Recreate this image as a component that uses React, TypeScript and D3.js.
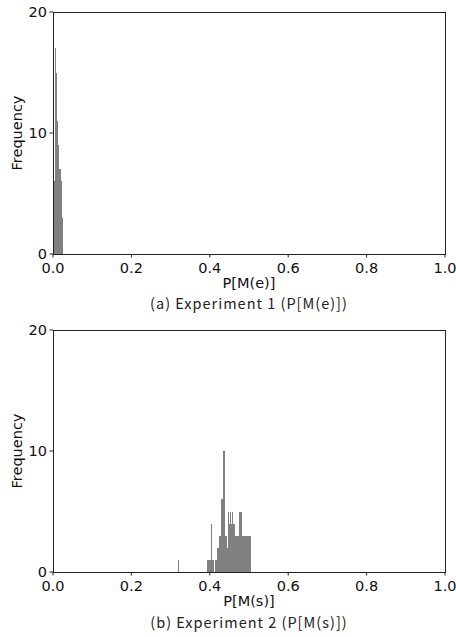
import React from "react";
import * as d3 from "d3";

// histogram bins: left edge + count, bin width 0.0025
const BIN_W = 0.0025;

const EXP1_EDGES = [0, 0.0025, 0.005, 0.0075, 0.01, 0.0125, 0.015, 0.0175, 0.02, 0.0225];
const EXP1_COUNTS = [6, 6, 17, 15, 11, 9, 7, 7, 6, 3];

const EXP2_EDGES = [
  0.32,
  0.3925, 0.395, 0.3975, 0.4, 0.4025, 0.405, 0.4075, 0.41, 0.4125, 0.415, 0.4175, 0.42,
  0.4225, 0.425, 0.4275, 0.43, 0.4325, 0.435, 0.4375, 0.44, 0.4425, 0.445, 0.4475, 0.45,
  0.4525, 0.455, 0.4575, 0.46, 0.4625, 0.465, 0.4675, 0.47, 0.4725, 0.475, 0.4775, 0.48,
  0.4825, 0.485, 0.4875, 0.49, 0.4925, 0.495, 0.4975, 0.5, 0.5025,
];
const EXP2_COUNTS = [
  1,
  1, 1, 1, 1, 4, 1, 1, 0, 1, 1, 2, 2,
  3, 3, 6, 6, 10, 10, 10, 3, 3, 2, 5, 4,
  5, 4, 5, 4, 4, 3, 3, 3, 3, 5, 5, 5,
  3, 3, 3, 3, 3, 3, 3, 3, 3,
];

const X_TICKS = [0, 0.2, 0.4, 0.6, 0.8, 1.0];
const Y_TICKS = [0, 10, 20];

const TICK_FONT = "'DejaVu Sans', sans-serif";
const CAP_FONT = "'Noto Sans CJK JP', 'Noto Sans', sans-serif";

const W = 456, H = 637;
const m = { left: 53, right: 11 };

function Panel({ top, edges, counts, xLabel, caption, capDy }: any) {
  const iH = 242;
  const x = d3.scaleLinear().domain([0, 1]).range([m.left, W - m.right]);
  const y = d3.scaleLinear().domain([0, 20]).range([top + iH, top]);
  const bins = edges.map((e: number, i: number) => ({ x0: e, x1: e + BIN_W, n: counts[i] }));
  const bottom = y(0);
  return (
    <g>
      {bins.filter((b: any) => b.n > 0).map((b: any, i: number) => (
        <rect key={i} x={x(b.x0)} width={x(b.x1) - x(b.x0)} y={y(b.n)} height={bottom - y(b.n)}
          fill="#808080" shapeRendering="crispEdges" />
      ))}
      <rect x={x(0)} y={y(20)} width={x(1) - x(0)} height={bottom - y(20)} fill="none"
        stroke="#222" strokeWidth={1} shapeRendering="crispEdges" />
      {X_TICKS.map(t => (
        <g key={t}>
          <line x1={x(t)} x2={x(t)} y1={bottom} y2={bottom + 3.5} stroke="#222" />
          <text x={x(t)} y={bottom + 19} textAnchor="middle" fontFamily={TICK_FONT} fontSize={14.5} fill="#111">
            {t.toFixed(1)}
          </text>
        </g>
      ))}
      {Y_TICKS.map(t => (
        <g key={t}>
          <line x1={m.left - 3.5} x2={m.left} y1={y(t)} y2={y(t)} stroke="#222" />
          <text x={m.left - 6} y={y(t) + 5} textAnchor="end" fontFamily={TICK_FONT} fontSize={14.5} fill="#111">
            {t}
          </text>
        </g>
      ))}
      <text transform={`translate(22,${(top + bottom) / 2}) rotate(-90)`} textAnchor="middle"
        fontFamily={TICK_FONT} fontSize={14.5} fill="#111">Frequency</text>
      <text x={(x(0) + x(1)) / 2} y={bottom + 34} textAnchor="middle" fontFamily={TICK_FONT} fontSize={14.5} fill="#111">
        {xLabel}
      </text>
      <text x={(x(0) + x(1)) / 2} y={bottom + capDy} textAnchor="middle" fontFamily={CAP_FONT} fontSize={14.5}
        letterSpacing={1} fill="#222">
        {caption}
      </text>
    </g>
  );
}

export default function App() {
  return (
    <svg width={W} height={H} style={{ position: "absolute", left: 0, top: 0, background: "#fff" }}>
      <Panel top={12} edges={EXP1_EDGES} counts={EXP1_COUNTS} xLabel="P[M(e)]"
        caption="(a) Experiment 1 (P[M(e)])" capDy={55} />
      <Panel top={330} edges={EXP2_EDGES} counts={EXP2_COUNTS} xLabel="P[M(s)]"
        caption="(b) Experiment 2 (P[M(s)])" capDy={56} />
    </svg>
  );
}
